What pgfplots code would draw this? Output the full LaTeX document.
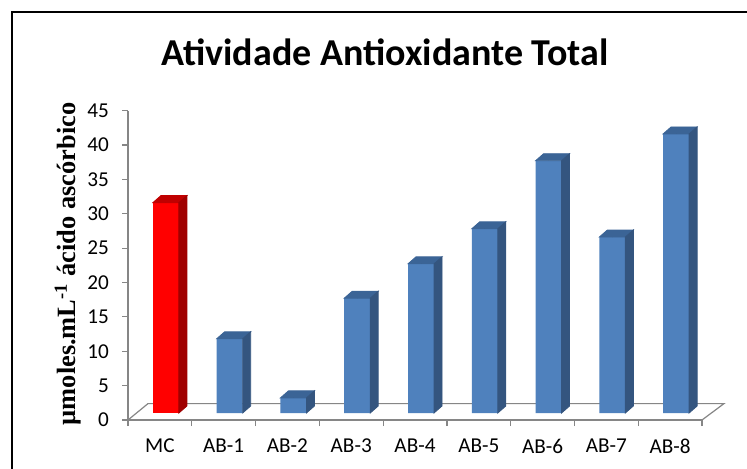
\documentclass[border=0pt]{standalone}
\usepackage{pgfplots}
\pgfplotsset{compat=1.18}
\usepackage{fontspec}
\setmainfont{Carlito}
\newfontfamily\timesfont{Liberation Serif}
\definecolor{axisgray}{HTML}{868686}
\definecolor{bluefront}{HTML}{4F81BD}
\definecolor{blueside}{HTML}{34557F}
\definecolor{bluetop}{HTML}{3B6496}
\definecolor{redfront}{HTML}{FF0000}
\definecolor{redside}{HTML}{A00000}
\definecolor{redtop}{HTML}{C00000}
\pgfplotsset{
  bar3d/.style n args={2}{
    scatter, only marks, mark=*, mark size=0pt,
    mark options={draw=none,fill=none},
    xshift=3pt, yshift=3.5pt,
    visualization depends on={rawy \as \val},
    scatter/@pre marker code/.code={%
      \pgfmathsetmacro\h{\val*3.437}%
      \fill[#1] (-6.5pt,0pt) -- (6.5pt,0pt) -- (10.5pt,3.5pt) -- (-2.5pt,3.5pt) -- cycle;
      \fill[#2] (6.5pt,0pt) -- (10.5pt,3.5pt) -- (10.5pt,3.5pt-\h pt) -- (6.5pt,-\h pt) -- cycle;
    },
    scatter/@post marker code/.code={},
  },
}
\begin{document}
\begin{tikzpicture}
\useasboundingbox (0pt,0pt) rectangle (373.5pt,-234.5pt);
% outer frame
\draw[black, line width=1.2pt] (6pt,-234.5pt) -- (6pt,-6pt) -- (373.5pt,-6pt);
% floor
\filldraw[fill=white, draw=axisgray, line width=0.6pt] (64pt,-210pt) -- (74pt,-201.8pt) -- (362pt,-201.8pt) -- (351pt,-210pt) -- cycle;
% title
\node[anchor=base] at (192.5pt,-33pt) {\fontsize{19}{22}\selectfont\bfseries Atividade Antioxidante Total};
% y label
\node[rotate=90, anchor=center] at (34pt,-132pt) {\fontsize{13.2}{15}\selectfont\timesfont\bfseries µmoles.mL\textsuperscript{-1} ácido ascórbico};
\begin{axis}[
  at={(64pt,-210pt)}, anchor=south west,
  x=31.89pt, y=3.437pt,
  xmin=-0.5, xmax=8.5, ymin=0, ymax=45,
  clip=false,
  axis x line=bottom, axis y line=left,
  axis line style={draw=axisgray, line width=0.6pt, -},
  tick align=outside,
  major tick length=3pt,
  tick style={draw=axisgray, line width=0.6pt},
  ytick={0,5,...,45},
  xtick={-0.5,0.5,...,8.5},
  xticklabels={},
  extra x ticks={0,1,2,3,4,5,6,7,8},
  extra x tick labels={MC,AB-1,AB-2,AB-3,AB-4,AB-5,AB-6,AB-7,AB-8},
  extra x tick style={major tick length=0pt, tick style={draw=none}},
  /pgf/number format/assume math mode=true,
  ticklabel style={font=\fontsize{10.6}{12}\selectfont, text=black},
  yticklabel style={xshift=-3pt},
  xticklabel style={yshift=-6pt},
]
\addplot[ybar, bar width=13pt, bar shift=0pt, fill=redfront, draw=none, xshift=3pt, yshift=3.5pt]
  coordinates {(0,30.6)};
\addplot[ybar, bar width=13pt, bar shift=0pt, fill=bluefront, draw=none, xshift=3pt, yshift=3.5pt]
  coordinates {(1,10.8) (2,2.2) (3,16.7) (4,21.7) (5,26.8) (6,36.7) (7,25.6) (8,40.6)};
\addplot[bar3d={redtop}{redside}] coordinates {(0,30.6)};
\addplot[bar3d={bluetop}{blueside}]
  coordinates {(1,10.8) (2,2.2) (3,16.7) (4,21.7) (5,26.8) (6,36.7) (7,25.6) (8,40.6)};
\end{axis}
\end{tikzpicture}
\end{document}
